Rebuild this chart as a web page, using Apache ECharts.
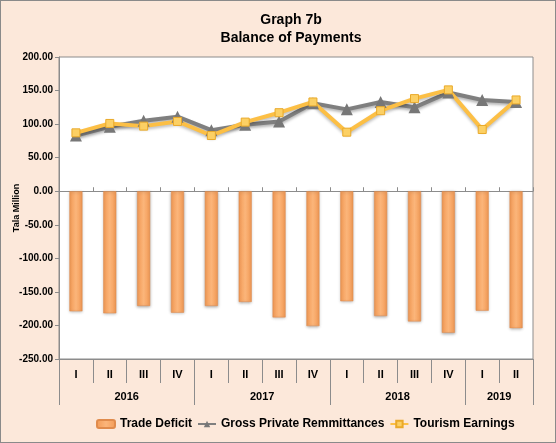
<!DOCTYPE html>
<html>
<head>
<meta charset="utf-8">
<script src="https://cdn.jsdelivr.net/npm/echarts@6/dist/echarts.min.js"></script>
<style>
  html, body { margin: 0; padding: 0; background: #fff; }
  #chart { width: 556px; height: 443px; box-sizing: border-box; border: 1px solid #8a8a8a; }
</style>
</head>
<body>
<div id="chart"></div>
<script>
// data
var quarters = ['I', 'II', 'III', 'IV', 'I', 'II', 'III', 'IV', 'I', 'II', 'III', 'IV', 'I', 'II'];
var years = ['2016', '2017', '2018', '2019'];
var quartersPerYear = [4, 4, 4, 2];
var tradeDeficit = [-179, -182, -171, -181, -171, -165, -188, -201, -164, -186, -194, -211, -178, -204];
var remittances = [83, 96, 105, 111, 91, 99, 104, 131, 122, 133, 125, 147, 136, 133];
var tourism = [87, 101, 97, 104, 83, 103, 117, 133, 88, 120, 138, 151, 92, 136];

// year group boundaries / centres on the quarter scale
var yearEdges = [0];
var yearCentres = [];
quartersPerYear.forEach(function (n, i) {
  var start = yearEdges[i];
  yearEdges.push(start + n);
  yearCentres.push(start + n / 2);
});

var dom = document.getElementById('chart');
var myChart = echarts.init(dom, null, { renderer: 'canvas' });

var font = 'Liberation Sans, Arial, sans-serif';
var axisGray = '#8c8c8c';

var option = {
  backgroundColor: '#fce8da',
  animation: false,
  textStyle: { fontFamily: font },
  title: {
    text: 'Graph 7b\nBalance of Payments',
    left: 285,
    textAlign: 'center',
    top: 5,
    textStyle: { fontSize: 14, fontWeight: 'bold', color: '#000', lineHeight: 18, fontFamily: font }
  },
  legend: {
    bottom: 7,
    left: 90,
    itemGap: 5,
    itemWidth: 18,
    itemHeight: 8,
    textStyle: { fontSize: 12, fontWeight: 'bold', color: '#000', fontFamily: font },
    data: ['Trade Deficit', 'Gross Private Remmittances', 'Tourism Earnings']
  },
  grid: {
    left: 58,
    right: 22,
    top: 56,
    bottom: 83,
    outerBoundsMode: 'none',
    show: true,
    backgroundColor: '#fff',
    borderColor: axisGray,
    borderWidth: 1
  },
  xAxis: [
    {
      // axis crossing at zero: only the small tick marks
      type: 'category',
      data: quarters,
      axisLine: { onZero: true, lineStyle: { color: axisGray } },
      axisTick: { show: true, inside: true, length: 4, lineStyle: { color: axisGray } },
      axisLabel: { show: false }
    },
    {
      type: 'category',
      data: quarters,
      position: 'bottom',
      axisLine: { onZero: false, show: true, lineStyle: { color: axisGray } },
      axisTick: { show: true, length: 24, interval: 0, lineStyle: { color: axisGray } },
      axisLabel: { fontSize: 11, fontWeight: 'bold', color: '#000', margin: 10, interval: 0 }
    },
    {
      type: 'value',
      position: 'bottom',
      offset: 24,
      min: 0,
      max: quarters.length,
      axisLine: { show: false },
      splitLine: { show: false },
      axisTick: { show: true, length: 22, customValues: yearEdges, lineStyle: { color: axisGray } },
      axisLabel: {
        customValues: yearCentres,
        fontSize: 11,
        fontWeight: 'bold',
        color: '#000',
        margin: 8,
        formatter: function (v) { return years[yearCentres.indexOf(v)] || ''; }
      }
    }
  ],
  yAxis: {
    type: 'value',
    min: -250,
    max: 200,
    interval: 50,
    name: 'Tala Million',
    nameLocation: 'middle',
    nameGap: 38,
    nameMoveOverlap: false,
    nameTextStyle: { fontSize: 9, fontWeight: 'bold', color: '#000' },
    axisLine: { show: true, lineStyle: { color: axisGray } },
    axisTick: { show: true, length: 4, lineStyle: { color: axisGray } },
    splitLine: { show: false },
    axisLabel: {
      fontSize: 10,
      fontWeight: 'bold',
      color: '#000',
      margin: 6,
      formatter: function (v) { return v.toFixed(2); }
    }
  },
  series: [
    {
      name: 'Trade Deficit',
      type: 'bar',
      xAxisIndex: 0,
      barWidth: 13,
      data: tradeDeficit,
      itemStyle: {
        color: new echarts.graphic.LinearGradient(0, 0, 1, 0, [
          { offset: 0, color: '#f39a55' },
          { offset: 0.5, color: '#fbb57a' },
          { offset: 1, color: '#f39a55' }
        ]),
        borderColor: '#e08b4c',
        borderWidth: 0.5,
        shadowColor: 'rgba(0,0,0,0.3)',
        shadowBlur: 3,
        shadowOffsetY: 1
      }
    },
    {
      name: 'Gross Private Remmittances',
      type: 'line',
      xAxisIndex: 0,
      data: remittances,
      symbol: 'triangle',
      symbolSize: 12,
      lineStyle: { color: '#7f7f7f', width: 4, shadowColor: 'rgba(0,0,0,0.3)', shadowBlur: 3, shadowOffsetY: 2 },
      itemStyle: { color: '#777777' }
    },
    {
      name: 'Tourism Earnings',
      type: 'line',
      xAxisIndex: 0,
      data: tourism,
      symbol: 'rect',
      symbolSize: 8,
      lineStyle: { color: '#fcbf45', width: 4, shadowColor: 'rgba(0,0,0,0.25)', shadowBlur: 3, shadowOffsetY: 2 },
      itemStyle: { color: '#fcd064', borderColor: '#e9a92a', borderWidth: 1 }
    }
  ]
};

if (option && typeof option === 'object') {
  myChart.setOption(option);
}
window.addEventListener('resize', myChart.resize);
</script>
</body>
</html>
